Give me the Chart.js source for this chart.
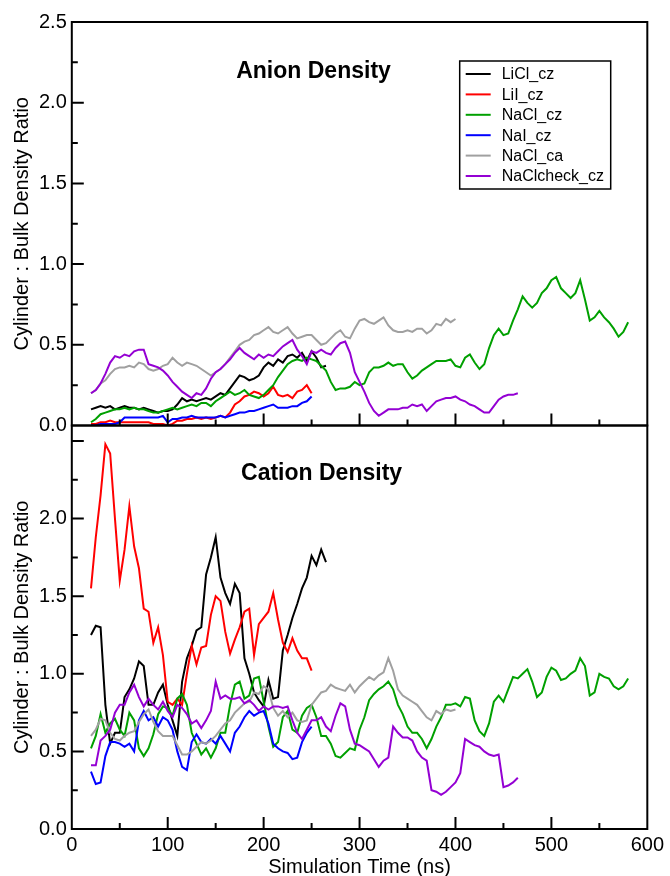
<!DOCTYPE html>
<html>
<head>
<meta charset="utf-8">
<script src="https://cdn.jsdelivr.net/npm/chart.js@4"></script>
<style>
  html, body { margin: 0; padding: 0; background: #fff; }
  #wrap { width: 670px; height: 876px; }
</style>
</head>
<body>
<div id="wrap"><canvas id="densityChart" width="670" height="876"></canvas></div>
<script>
// Cylinder : bulk density ratio vs simulation time for six runs.
// Two stacked panels (anions on top, cations below) share one time axis.

const TIME_START = 20;  // ns, first sample
const TIME_STEP = 5;    // ns between samples

const seriesNames  = ['LiCl_cz', 'LiI_cz', 'NaCl_cz', 'NaI_cz', 'NaCl_ca', 'NaClcheck_cz'];
const seriesColors = ['#000000', '#ff0000', '#00a000', '#0000ff', '#a0a0a0', '#9400d3'];

// axis ranges / tick spacing
const timeMax = 600, timeMajor = 100, timeMinor = 50;
const anionMax = 2.5, cationMax = 2.6, ratioMajor = 0.5, ratioMinor = 0.25;
const cationLabelTop = 2.0;

// ---- anion density (top panel) ----
const anionLiCl = [
  0.10, 0.11, 0.12, 0.11, 0.12, 0.10, 0.11, 0.12, 0.11, 0.11,
  0.10, 0.11, 0.10, 0.09, 0.08, 0.09, 0.09, 0.10, 0.13, 0.17,
  0.15, 0.16, 0.15, 0.16, 0.17, 0.16, 0.18, 0.20, 0.19, 0.23,
  0.27, 0.31, 0.30, 0.28, 0.29, 0.31, 0.36, 0.39, 0.37, 0.41,
  0.39, 0.43, 0.44, 0.42, 0.45, 0.40, 0.46, 0.42, 0.36, 0.37
];
const anionLiI = [
  0.01, 0.01, 0.02, 0.02, 0.03, 0.02, 0.02, 0.02, 0.02, 0.02,
  0.02, 0.02, 0.02, 0.01, 0.01, 0.01, 0.00, 0.01, 0.03, 0.03,
  0.04, 0.04, 0.05, 0.04, 0.05, 0.04, 0.05, 0.06, 0.05, 0.08,
  0.13, 0.15, 0.18, 0.19, 0.21, 0.20, 0.18, 0.20, 0.24, 0.19,
  0.18, 0.19, 0.17, 0.21, 0.22, 0.25, 0.20
];
const anionNaCl = [
  0.02, 0.04, 0.07, 0.08, 0.09, 0.10, 0.10, 0.11, 0.10, 0.11,
  0.10, 0.10, 0.09, 0.08, 0.08, 0.09, 0.10, 0.11, 0.10, 0.11,
  0.12, 0.13, 0.12, 0.14, 0.14, 0.12, 0.15, 0.17, 0.19, 0.21,
  0.19, 0.20, 0.22, 0.19, 0.18, 0.17, 0.19, 0.22, 0.25, 0.30,
  0.34, 0.38, 0.40, 0.41, 0.40, 0.42, 0.41, 0.40, 0.37, 0.34,
  0.27, 0.22, 0.23, 0.23, 0.24, 0.27, 0.25, 0.26, 0.33, 0.36,
  0.36, 0.37, 0.39, 0.37, 0.38, 0.38, 0.33, 0.29, 0.31, 0.34,
  0.36, 0.38, 0.40, 0.40, 0.40, 0.41, 0.37, 0.36, 0.42, 0.44,
  0.39, 0.35, 0.38, 0.48, 0.56, 0.60, 0.56, 0.57, 0.65, 0.72,
  0.80, 0.76, 0.73, 0.76, 0.82, 0.85, 0.90, 0.92, 0.85, 0.82,
  0.79, 0.82, 0.90, 0.78, 0.65, 0.67, 0.71, 0.67, 0.64, 0.60,
  0.55, 0.58, 0.64
];
const anionNaI = [
  0.00, 0.00, 0.01, 0.01, 0.01, 0.01, 0.02, 0.05, 0.05, 0.05,
  0.05, 0.05, 0.05, 0.05, 0.05, 0.06, 0.02, 0.04, 0.04, 0.05,
  0.05, 0.06, 0.05, 0.05, 0.05, 0.05, 0.05, 0.06, 0.05, 0.06,
  0.07, 0.08, 0.08, 0.09, 0.09, 0.10, 0.11, 0.12, 0.13, 0.11,
  0.11, 0.11, 0.12, 0.12, 0.14, 0.15, 0.18
];
const anionNaClCa = [
  0.20, 0.22, 0.26, 0.28, 0.32, 0.35, 0.36, 0.36, 0.37, 0.36,
  0.39, 0.38, 0.35, 0.34, 0.35, 0.37, 0.38, 0.42, 0.39, 0.37,
  0.39, 0.38, 0.37, 0.35, 0.33, 0.31, 0.33, 0.35, 0.38, 0.42,
  0.46, 0.50, 0.52, 0.53, 0.56, 0.57, 0.59, 0.61, 0.58, 0.57,
  0.59, 0.61, 0.57, 0.54, 0.55, 0.56, 0.56, 0.53, 0.50, 0.51,
  0.54, 0.57, 0.59, 0.55, 0.54, 0.60, 0.65, 0.66, 0.64, 0.63,
  0.65, 0.67, 0.62, 0.59, 0.58, 0.58, 0.59, 0.58, 0.60, 0.60,
  0.57, 0.59, 0.63, 0.62, 0.66, 0.64, 0.66
];
const anionNaClCheck = [
  0.20, 0.22, 0.26, 0.32, 0.39, 0.43, 0.42, 0.44, 0.43, 0.46,
  0.47, 0.47, 0.38, 0.37, 0.36, 0.34, 0.31, 0.27, 0.24, 0.21,
  0.19, 0.17, 0.20, 0.19, 0.23, 0.29, 0.33, 0.35, 0.38, 0.41,
  0.45, 0.48, 0.45, 0.43, 0.41, 0.44, 0.42, 0.44, 0.43, 0.46,
  0.49, 0.51, 0.53, 0.47, 0.43, 0.38, 0.46, 0.45, 0.47, 0.45,
  0.44, 0.48, 0.51, 0.52, 0.45, 0.33, 0.27, 0.21, 0.14, 0.09,
  0.06, 0.08, 0.10, 0.10, 0.10, 0.11, 0.11, 0.13, 0.12, 0.13,
  0.09, 0.12, 0.15, 0.16, 0.17, 0.17, 0.18, 0.16, 0.15, 0.13,
  0.12, 0.10, 0.08, 0.08, 0.12, 0.16, 0.18, 0.19, 0.19, 0.20
];

// ---- cation density (bottom panel) ----
const cationLiCl = [
  1.25, 1.31, 1.30, 0.80, 0.55, 0.62, 0.62, 0.85, 0.90, 0.97,
  1.08, 1.05, 0.80, 0.80, 0.88, 0.93, 0.80, 0.70, 0.60, 0.95,
  1.10, 1.18, 1.28, 1.30, 1.64, 1.75, 1.88, 1.62, 1.52, 1.45,
  1.58, 1.52, 1.10, 1.00, 0.88, 0.83, 0.79, 0.96, 0.84, 0.85,
  1.15, 1.25, 1.36, 1.45, 1.55, 1.62, 1.76, 1.70, 1.80, 1.72
];
const cationLiI = [
  1.55, 1.88, 2.15, 2.48, 2.42, 2.00, 1.60, 1.80, 2.08, 1.82,
  1.68, 1.42, 1.40, 1.20, 1.30, 1.12, 0.82, 0.80, 0.84, 0.80,
  1.00, 1.18, 1.06, 1.17, 1.18, 1.38, 1.50, 1.47, 1.27, 1.13,
  1.22, 1.30, 1.40, 1.42, 1.12, 1.32, 1.36, 1.40, 1.52, 1.35,
  1.20, 1.14, 1.23, 1.15, 1.10, 1.10, 1.02
];
const cationNaCl = [
  0.52, 0.60, 0.74, 0.62, 0.68, 0.71, 0.64, 0.60, 0.75, 0.70,
  0.52, 0.47, 0.52, 0.61, 0.74, 0.79, 0.78, 0.73, 0.84, 0.87,
  0.80, 0.62, 0.55, 0.48, 0.52, 0.46, 0.52, 0.62, 0.62, 0.80,
  0.93, 0.95, 0.84, 0.86, 0.97, 0.98, 0.82, 0.66, 0.53, 0.56,
  0.72, 0.76, 0.64, 0.62, 0.73, 0.78, 0.80, 0.72, 0.60, 0.60,
  0.55, 0.47, 0.46, 0.49, 0.52, 0.51, 0.64, 0.72, 0.83, 0.87,
  0.90, 0.92, 0.95, 0.90, 0.80, 0.74, 0.66, 0.62, 0.62, 0.58,
  0.52, 0.58, 0.66, 0.72, 0.80, 0.80, 0.81, 0.79, 0.85, 0.84,
  0.70, 0.63, 0.60, 0.68, 0.82, 0.86, 0.82, 0.90, 0.98, 0.97,
  1.00, 1.03, 0.95, 0.85, 0.88, 0.98, 1.04, 1.02, 0.96, 0.97,
  1.00, 1.02, 1.10, 1.05, 0.86, 0.88, 1.00, 0.98, 0.97, 0.92,
  0.90, 0.92, 0.97
];
const cationNaI = [
  0.37, 0.29, 0.30, 0.47, 0.56, 0.56, 0.55, 0.53, 0.55, 0.50,
  0.70, 0.76, 0.70, 0.72, 0.66, 0.72, 0.70, 0.64, 0.50, 0.40,
  0.38, 0.56, 0.61, 0.56, 0.55, 0.58, 0.55, 0.60, 0.55, 0.50,
  0.62, 0.66, 0.72, 0.76, 0.73, 0.75, 0.76, 0.68, 0.55, 0.52,
  0.50, 0.49, 0.45, 0.46, 0.56, 0.62, 0.66
];
const cationNaClCa = [
  0.60, 0.64, 0.71, 0.70, 0.62, 0.58, 0.57, 0.60, 0.62, 0.63,
  0.69, 0.74, 0.77, 0.69, 0.63, 0.60, 0.60, 0.60, 0.54, 0.48,
  0.48, 0.50, 0.53, 0.56, 0.55, 0.57, 0.60, 0.64, 0.68, 0.70,
  0.75, 0.78, 0.81, 0.82, 0.88, 0.87, 0.92, 0.90, 0.78, 0.73,
  0.76, 0.72, 0.75, 0.70, 0.69, 0.70, 0.80, 0.84, 0.88, 0.89,
  0.93, 0.91, 0.90, 0.89, 0.93, 0.88, 0.92, 0.95, 0.98, 0.96,
  0.99, 1.01, 1.10, 1.02, 0.90, 0.86, 0.84, 0.82, 0.80, 0.76,
  0.72, 0.70, 0.76, 0.74, 0.77, 0.76, 0.77
];
const cationNaClCheck = [
  0.41, 0.41, 0.57, 0.60, 0.64, 0.75, 0.80, 0.80, 0.88, 0.93,
  0.85, 0.79, 0.84, 0.80, 0.77, 0.82, 0.76, 0.72, 0.80, 0.78,
  0.74, 0.68, 0.70, 0.65, 0.70, 0.76, 0.95, 0.84, 0.86, 0.84,
  0.84, 0.85, 0.81, 0.83, 0.80, 0.76, 0.79, 0.77, 0.79, 0.79,
  0.78, 0.79, 0.70, 0.62, 0.58, 0.64, 0.70, 0.70, 0.72, 0.66,
  0.63, 0.73, 0.81, 0.79, 0.64, 0.55, 0.54, 0.52, 0.50, 0.45,
  0.40, 0.44, 0.46, 0.66, 0.62, 0.59, 0.59, 0.57, 0.50, 0.46,
  0.44, 0.25, 0.24, 0.22, 0.24, 0.27, 0.30, 0.36, 0.58, 0.56,
  0.54, 0.53, 0.50, 0.48, 0.47, 0.48, 0.27, 0.28, 0.30, 0.33
];

const anionSeries  = [anionLiCl, anionLiI, anionNaCl, anionNaI, anionNaClCa, anionNaClCheck];
const cationSeries = [cationLiCl, cationLiI, cationNaCl, cationNaI, cationNaClCa, cationNaClCheck];

const toPoints = values => values.map((v, i) => ({ x: TIME_START + i * TIME_STEP, y: v }));

function panelDatasets(series, axisId) {
  return series.map((values, i) => ({
    label: seriesNames[i],
    data: toPoints(values),
    yAxisID: axisId,
    borderColor: seriesColors[i],
    borderWidth: 2,
    pointRadius: 0,
    tension: 0,
    fill: false,
    order: seriesNames.length - i   // later runs drawn on top
  }));
}

const FONT = '"Liberation Sans", Arial, Helvetica, sans-serif';
Chart.defaults.font.family = FONT;
Chart.defaults.color = '#000';

// frames, inward ticks, panel titles and the legend box
const panelDecor = {
  id: 'panelDecor',
  afterDraw(chart) {
    const { ctx, chartArea: area, scales } = chart;
    const xs = scales.x;
    ctx.save();
    ctx.strokeStyle = '#000';
    ctx.lineWidth = 2;

    [scales.yTop, scales.yBot].forEach(ys => {
      ctx.strokeRect(area.left, ys.top, area.right - area.left, ys.bottom - ys.top);
      ctx.beginPath();
      const nY = Math.round(ys.max / ratioMinor);
      for (let k = 1; k <= nY; k++) {
        const v = k * ratioMinor;
        if (v >= ys.max - 1e-6) break;
        const py = ys.getPixelForValue(v);
        const len = (k % 2 === 0) ? 12 : 6;
        ctx.moveTo(area.left, py);
        ctx.lineTo(area.left + len, py);
      }
      const nX = Math.round(timeMax / timeMinor);
      for (let k = 1; k < nX; k++) {
        const px = xs.getPixelForValue(k * timeMinor);
        const len = ((k * timeMinor) % timeMajor === 0) ? 12 : 6;
        ctx.moveTo(px, ys.bottom);
        ctx.lineTo(px, ys.bottom - len);
      }
      ctx.stroke();
    });

    const w = area.right - area.left;
    ctx.fillStyle = '#000';
    ctx.font = 'bold 23px ' + FONT;
    ctx.textAlign = 'center';
    ctx.textBaseline = 'middle';
    ctx.fillText('Anion Density', area.left + w * 0.42, scales.yTop.top + 50);
    ctx.fillText('Cation Density', area.left + w * 0.434, scales.yBot.top + 48);

    // legend
    const lx = area.left + w * 0.674, ly = scales.yTop.top + 39;
    const lw = 151, lh = 128, rowH = 20.4;
    ctx.lineWidth = 1.5;
    ctx.strokeRect(lx, ly, lw, lh);
    ctx.font = '16px ' + FONT;
    ctx.textAlign = 'left';
    seriesNames.forEach((name, i) => {
      const ry = ly + 13 + i * rowH;
      ctx.strokeStyle = seriesColors[i];
      ctx.lineWidth = 2;
      ctx.beginPath();
      ctx.moveTo(lx + 6, ry);
      ctx.lineTo(lx + 31, ry);
      ctx.stroke();
      ctx.fillText(name, lx + 42, ry + 1);
    });
    ctx.restore();
  }
};

const ratioAxis = (max, extra) => Object.assign({
  type: 'linear',
  position: 'left',
  stack: 'panels',
  stackWeight: 1,
  min: 0,
  max: max,
  grid: { display: false, drawTicks: false },
  border: { display: false },
  ticks: {
    stepSize: ratioMajor,
    padding: 5,
    font: { size: 20 },
    callback: v => v.toFixed(1)
  },
  title: {
    display: true,
    text: 'Cylinder : Bulk Density Ratio',
    font: { size: 20 },
    padding: { top: 0, bottom: 0 }
  }
}, extra);

const ctx = document.getElementById('densityChart').getContext('2d');

new Chart(ctx, {
  type: 'line',
  data: {
    datasets: panelDatasets(anionSeries, 'yTop').concat(panelDatasets(cationSeries, 'yBot'))
  },
  options: {
    responsive: false,
    animation: false,
    devicePixelRatio: 1,
    layout: { padding: { top: 22, right: 21, bottom: -1, left: 10 } },
    plugins: {
      legend: { display: false },
      tooltip: { enabled: false }
    },
    scales: {
      x: {
        type: 'linear',
        position: 'bottom',
        min: 0,
        max: timeMax,
        grid: { display: false, drawTicks: false },
        border: { display: false },
        ticks: { stepSize: timeMajor, padding: 6, font: { size: 20, lineHeight: 1 }, maxRotation: 0 },
        title: {
          display: true,
          text: 'Simulation Time (ns)',
          font: { size: 20, lineHeight: 1 },
          padding: { top: -4, bottom: 0 }
        }
      },
      // stacked panels: the first one listed ends up at the bottom
      yBot: ratioAxis(cationMax, {
        afterBuildTicks: axis => {
          axis.ticks = axis.ticks.filter(t => t.value <= cationLabelTop + 1e-6);
        }
      }),
      yTop: ratioAxis(anionMax, {})
    }
  },
  plugins: [panelDecor]
});
</script>
</body>
</html>
